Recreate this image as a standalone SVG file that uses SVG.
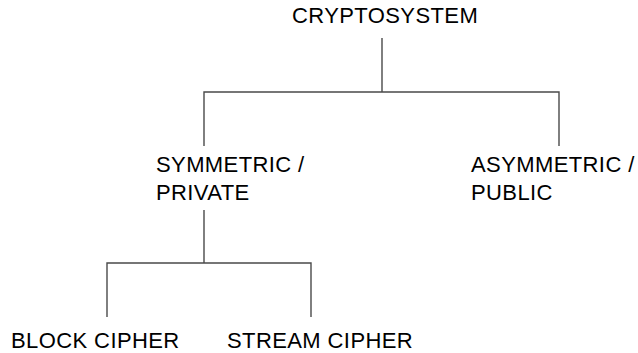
<svg xmlns="http://www.w3.org/2000/svg" width="638" height="353" viewBox="0 0 638 353">
<style>
text{font-family:"Liberation Sans",Arial,sans-serif;font-size:22px;letter-spacing:0.4px;fill:#000}
.c{fill:none;stroke:#4a4a4a;stroke-width:1.4}
</style>
<rect width="638" height="353" fill="#fff"/>
<g id="connectors">
<path class="c" d="M382 38V92M204 146V92H559V146"/>
<path class="c" d="M204 210V263M107 317V263H311V317"/>
</g>
<g id="cryptosystem"><text x="292" y="23">CRYPTOSYSTEM</text></g>
<g id="symmetric"><text x="156" y="172">SYMMETRIC /</text><text x="156" y="200">PRIVATE</text></g>
<g id="asymmetric"><text x="471" y="172">ASYMMETRIC /</text><text x="471" y="200">PUBLIC</text></g>
<g id="block"><text x="11" y="348">BLOCK CIPHER</text></g>
<g id="stream"><text x="227" y="348">STREAM CIPHER</text></g>
</svg>
